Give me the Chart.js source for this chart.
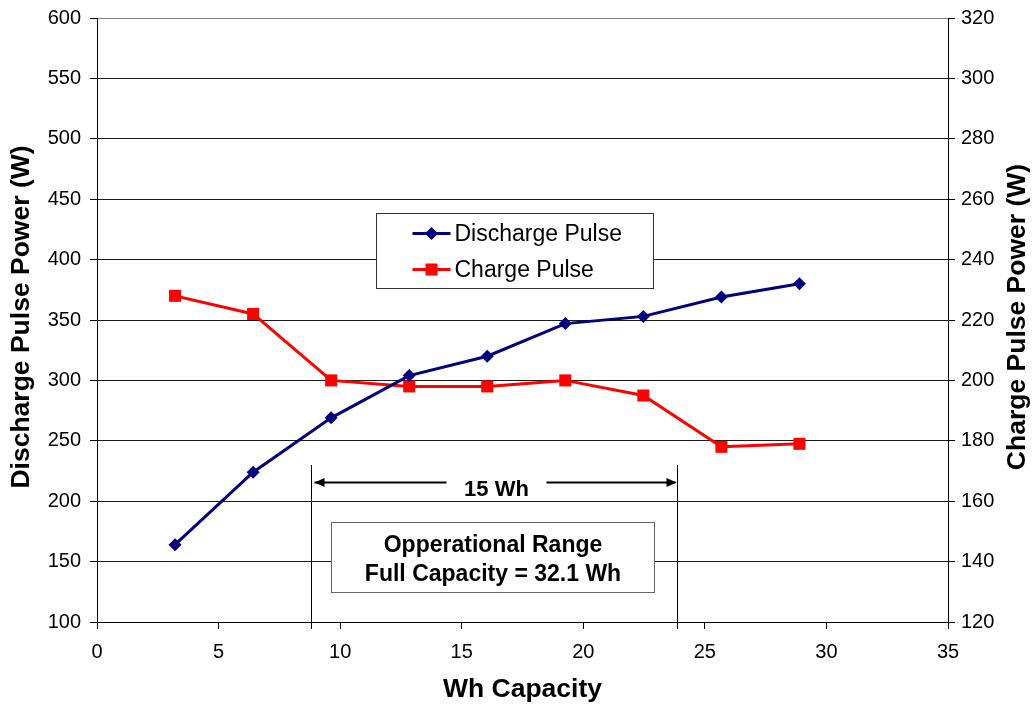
<!DOCTYPE html>
<html>
<head>
<meta charset="utf-8">
<script src="https://cdn.jsdelivr.net/npm/chart.js@4.4.1/dist/chart.umd.min.js"></script>
<style>
  html, body { margin: 0; padding: 0; background: #fff; }
</style>
</head>
<body>
<canvas id="gPulso" width="1036" height="708"></canvas>
<script>
// Pulse power vs capacity

const capacidade = [3.21, 6.42, 9.63, 12.84, 16.05, 19.26, 22.47, 25.68, 28.89];
const descarga = [164, 224, 269, 304, 320, 347, 353, 369, 380];
const carga = [228, 222, 200, 198, 198, 200, 195, 178, 179];

const xTicks = [0, 5, 10, 15, 20, 25, 30, 35];
const yEsqTicks = [100, 150, 200, 250, 300, 350, 400, 450, 500, 550, 600];
const yDirTicks = [120, 140, 160, 180, 200, 220, 240, 260, 280, 300, 320];

const nomes = ['Discharge Pulse', 'Charge Pulse'];
const tituloX = 'Wh Capacity';
const tituloEsq = 'Discharge Pulse Power (W)';
const tituloDir = 'Charge Pulse Power (W)';

// operational range annotation (x in Wh, y on left axis)
const faixaInicio = 8.8;
const faixaFim = 23.85;
const faixaTexto = '15 Wh';
const caixaTexto = ['Opperational Range', 'Full Capacity = 32.1 Wh'];

const FONTE = "'Liberation Sans', Arial, sans-serif";
const AZUL = '#000080';
const VERMELHO = '#FF0000';

function marcador(ctx, tipo, x, y, cor) {
  ctx.fillStyle = cor;
  ctx.beginPath();
  if (tipo === 'rectRot') {
    ctx.moveTo(x, y - 6.5);
    ctx.lineTo(x + 6.5, y);
    ctx.lineTo(x, y + 6.5);
    ctx.lineTo(x - 6.5, y);
    ctx.closePath();
  } else {
    ctx.rect(x - 6, y - 6, 12, 12);
  }
  ctx.fill();
}

const extras = {
  id: 'extras',
  afterDraw(chart) {
    const ctx = chart.ctx;
    const x = chart.scales.x;
    const y = chart.scales.y;
    const area = chart.chartArea;
    ctx.save();

    // titulos dos eixos
    ctx.fillStyle = '#000';
    ctx.textAlign = 'center';
    ctx.textBaseline = 'middle';
    ctx.font = 'bold 26.5px ' + FONTE;
    ctx.fillText(tituloX, (area.left + area.right) / 2, 690);
    [[tituloEsq, 22], [tituloDir, 1018]].forEach(([t, px]) => {
      ctx.save();
      ctx.translate(px, (area.top + area.bottom) / 2 - 3);
      ctx.rotate(-Math.PI / 2);
      ctx.fillText(t, 0, 0);
      ctx.restore();
    });

    // faixa operacional
    const xa = Math.round(x.getPixelForValue(faixaInicio)) + 0.5;
    const xb = Math.round(x.getPixelForValue(faixaFim)) + 0.5;
    const yTopo = y.getPixelForValue(230);
    ctx.strokeStyle = '#000';
    ctx.lineWidth = 1;
    ctx.beginPath();
    ctx.moveTo(xa, yTopo); ctx.lineTo(xa, area.bottom + 7);
    ctx.moveTo(xb, yTopo); ctx.lineTo(xb, area.bottom + 7);
    ctx.stroke();

    const ySeta = Math.round(y.getPixelForValue(216)) + 0.5;
    const xm = (xa + xb) / 2;
    ctx.lineWidth = 2;
    ctx.beginPath();
    ctx.moveTo(xa + 3, ySeta); ctx.lineTo(xm - 48, ySeta);
    ctx.moveTo(xm + 52, ySeta); ctx.lineTo(xb - 2, ySeta);
    ctx.stroke();
    ctx.fillStyle = '#000';
    ctx.beginPath();
    ctx.moveTo(xa + 3, ySeta); ctx.lineTo(xa + 13, ySeta - 4.5); ctx.lineTo(xa + 13, ySeta + 4.5);
    ctx.closePath();
    ctx.moveTo(xb - 1, ySeta); ctx.lineTo(xb - 11, ySeta - 4.5); ctx.lineTo(xb - 11, ySeta + 4.5);
    ctx.closePath();
    ctx.fill();
    ctx.font = 'bold 22px ' + FONTE;
    ctx.textBaseline = 'alphabetic';
    ctx.fillText(faixaTexto, xm + 2, ySeta + 13);

    const bx0 = Math.round(x.getPixelForValue(9.62)) + 0.5;
    const bx1 = Math.round(x.getPixelForValue(22.91)) + 0.5;
    const by0 = Math.round(y.getPixelForValue(183)) + 0.5;
    const by1 = Math.round(y.getPixelForValue(125)) + 0.5;
    ctx.fillStyle = '#fff';
    ctx.fillRect(bx0, by0, bx1 - bx0, by1 - by0);
    ctx.strokeStyle = '#666';
    ctx.lineWidth = 1;
    ctx.strokeRect(bx0, by0, bx1 - bx0, by1 - by0);
    ctx.fillStyle = '#000';
    ctx.font = 'bold 23px ' + FONTE;
    ctx.fillText(caixaTexto[0], (bx0 + bx1) / 2, by0 + 29);
    ctx.fillText(caixaTexto[1], (bx0 + bx1) / 2, by0 + 58);

    // legenda
    const lx0 = Math.round(x.getPixelForValue(11.47)) + 0.5;
    const lx1 = Math.round(x.getPixelForValue(22.87)) + 0.5;
    const ly0 = Math.round(y.getPixelForValue(438.6)) + 0.5;
    const ly1 = Math.round(y.getPixelForValue(376.5)) + 0.5;
    ctx.fillStyle = '#fff';
    ctx.fillRect(lx0, ly0, lx1 - lx0, ly1 - ly0);
    ctx.strokeStyle = '#333';
    ctx.strokeRect(lx0, ly0, lx1 - lx0, ly1 - ly0);
    ctx.font = '23px ' + FONTE;
    ctx.textAlign = 'left';
    ctx.textBaseline = 'middle';
    chart.data.datasets.forEach((ds, i) => {
      const ly = ly0 + 20 + i * 36;
      ctx.strokeStyle = ds.borderColor;
      ctx.lineWidth = 3;
      ctx.beginPath();
      ctx.moveTo(lx0 + 36, ly); ctx.lineTo(lx0 + 74, ly);
      ctx.stroke();
      marcador(ctx, ds.pointStyle, lx0 + 55, ly, ds.borderColor);
      ctx.fillStyle = '#000';
      ctx.fillText(ds.label, lx0 + 78, ly + 1);
    });

    ctx.restore();
  }
};

function fixarTicks(lista) {
  return scale => { scale.ticks = lista.map(v => ({ value: v })); };
}

// fixed axis width, no extra label overflow above/below the plot
function fixarLargura(w) {
  return s => { s.width = w; s.paddingTop = 0; s.paddingBottom = 0; };
}

const fonteTick = { family: FONTE, size: 20 };

const ctxPulso = document.getElementById('gPulso').getContext('2d');
const meuGrafico = new Chart(ctxPulso, {
  type: 'line',
  data: {
    datasets: [
      {
        label: nomes[0],
        data: capacidade.map((c, i) => ({ x: c, y: descarga[i] })),
        yAxisID: 'y',
        borderColor: AZUL,
        backgroundColor: AZUL,
        borderWidth: 3,
        pointStyle: 'rectRot',
        pointRadius: 6.5,
        pointBorderWidth: 0,
        tension: 0
      },
      {
        label: nomes[1],
        data: capacidade.map((c, i) => ({ x: c, y: carga[i] })),
        yAxisID: 'y2',
        borderColor: VERMELHO,
        backgroundColor: VERMELHO,
        borderWidth: 3,
        pointStyle: 'rect',
        pointRadius: 8.5,
        pointBorderWidth: 0,
        tension: 0
      }
    ]
  },
  options: {
    responsive: false,
    animation: false,
    devicePixelRatio: 1,
    layout: { padding: { top: 18, left: 0, right: 0, bottom: 0 } },
    scales: {
      x: {
        type: 'linear',
        min: 0,
        max: 35,
        afterBuildTicks: fixarTicks(xTicks),
        afterFit: s => { s.height = 86; },
        grid: { drawOnChartArea: false, tickLength: 7, color: '#000' },
        border: { color: '#000', width: 1 },
        ticks: { color: '#000', font: fonteTick, padding: 11, maxRotation: 0 }
      },
      y: {
        position: 'left',
        min: 100,
        max: 600,
        afterBuildTicks: fixarTicks(yEsqTicks),
        afterFit: fixarLargura(97),
        grid: {
          tickLength: 7,
          color: c => (c.tick && c.tick.value === 600 ? '#808080' : '#1a1a1a'),
          tickColor: '#000'
        },
        border: { color: '#000', width: 1 },
        ticks: { color: '#000', font: fonteTick, padding: 9 }
      },
      y2: {
        position: 'right',
        min: 120,
        max: 320,
        afterBuildTicks: fixarTicks(yDirTicks),
        afterFit: fixarLargura(88),
        grid: { drawOnChartArea: false, tickLength: 7, color: '#000' },
        border: { color: '#000', width: 1 },
        ticks: { color: '#000', font: fonteTick, padding: 6 }
      }
    },
    plugins: {
      legend: { display: false },
      tooltip: { enabled: false }
    }
  },
  plugins: [extras]
});
</script>
</body>
</html>
